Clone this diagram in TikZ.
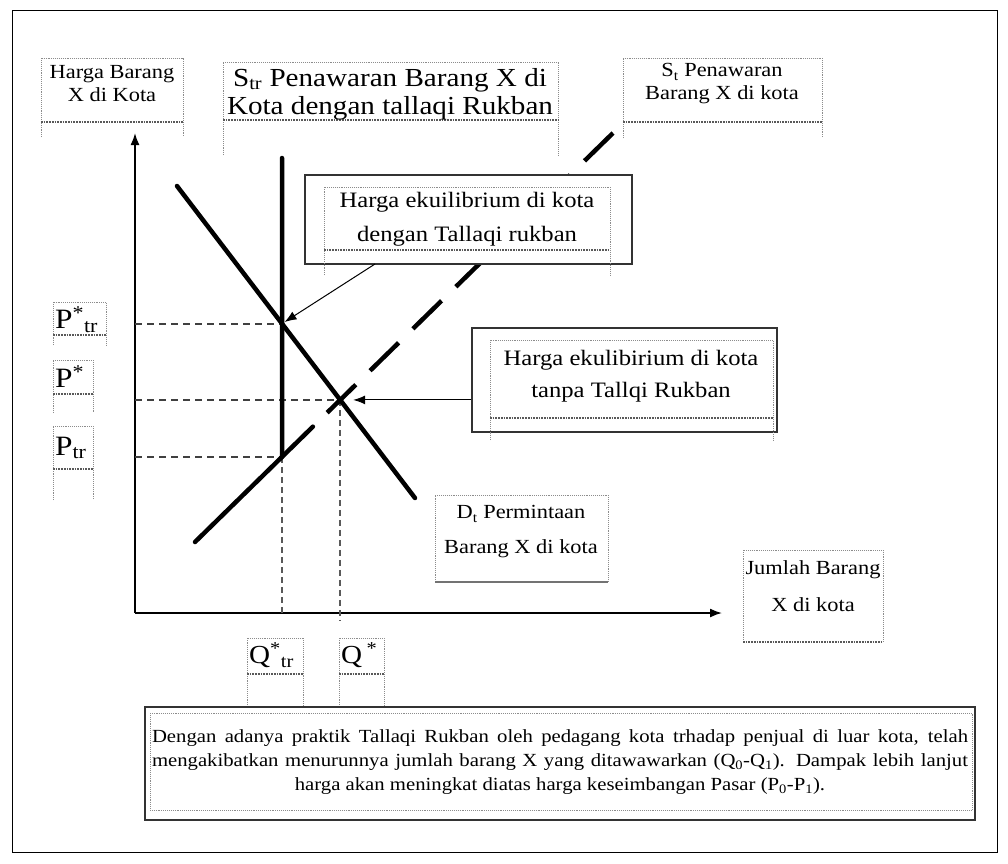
\documentclass[tikz,border=0pt]{standalone}
\usepackage{fontspec}
\setmainfont[FakeStretch=1.12]{Liberation Serif}
\usetikzlibrary{arrows.meta,calc,intersections}
\newcommand\fsz[2]{\fontsize{#1}{#2}\selectfont}
\begin{document}
\begin{tikzpicture}[x=1pt,y=-1pt,
  curve/.style={line width=4.5pt,line cap=round},
  guide/.style={line width=2pt,dash pattern=on 7pt off 5pt,black!75},
  vguide/.style={line width=1.6pt,dash pattern=on 6pt off 4pt,black!65},
  edge/.style={densely dotted,line width=0.9pt,black!45},
  uline/.style={densely dotted,line width=1.7pt,black!65},
  solidbox/.style={line width=1.3pt,black!80},
  lbl/.style={align=center,inner sep=0pt,text=black},
  axis/.style={line width=1.6pt,-{Latex[length=12pt,width=9pt]}},
  pointer/.style={line width=1pt,-{Latex[length=12pt,width=9pt]}}]
\useasboundingbox (0,0) rectangle (1008,863);
\draw[line width=1pt] (12,10) rectangle (997,852);

% ---- axes ----
\coordinate (O) at (135,613);
\coordinate (ytop) at (135,133);
\coordinate (xend) at (722,613);
\draw[axis] (O) -- (ytop);
\draw[axis] (O) -- (xend);

% ---- curves ----
\coordinate (d0) at (177,186);
\coordinate (d1) at (415,498);
\coordinate (s0) at (195,542);
\coordinate (s1) at (613,133);
\coordinate (v0) at (282,158);
\coordinate (v1) at (282,470);
\path[name path=D] (d0) -- (d1);
\path[name path=S] (s0) -- (s1);
\path[name path=V] (v0) -- (v1);
\path[name intersections={of=D and V,by=iA}];
\path[name intersections={of=D and S,by=iB}];
\path[name intersections={of=S and V,by=iC}];

% guides
\draw[guide] (O |- iA) -- (iA);
\draw[guide] (O |- iB) -- (iB);
\draw[guide] (O |- iC) -- (iC);
\draw[vguide] (iC) -- (iC |- O);
\draw[vguide] (iB) -- ($(iB |- O)+(0,8)$);

\draw[curve] (v0) -- (iC);
\draw[curve] (d0) -- (d1);
\coordinate (sm) at ($(s0)!0.282!(s1)$);
\draw[curve] (s0) -- (sm);
\draw[line width=4.5pt,dash pattern=on 40pt off 20pt,dash phase=40pt] (sm) -- (s1);

% ---- label boxes (dotted, open bottom) ----
% Harga Barang
\draw[edge] (41,137) -- (41,58) -- (183,58) -- (183,137);
\draw[uline] (41,122) -- (183,122);
\node[lbl,font=\fsz{20}{23}] (hb) at (112,84) {Harga Barang\\X di Kota};
% S_tr
\draw[edge] (223,155) -- (223,62) -- (558,62) -- (558,155);
\draw[uline] (223,120) -- (558,120);
\node[lbl,font=\fsz{26}{28}] (str) at (390,94) {S\textsubscript{tr} Penawaran Barang X di\\Kota dengan tallaqi Rukban};
% S_t
\draw[edge] (623,138) -- (623,58) -- (822,58) -- (822,138);
\draw[uline] (623,122) -- (822,122);
\node[lbl,font=\fsz{20}{23}] (st) at (722,84) {S\textsubscript{t} Penawaran\\Barang X di kota};

% equilibrium boxes
\node[draw,solidbox,fill=white,minimum width=327pt,minimum height=89pt,inner sep=0pt] (eqAbox) at (468.5,219.5) {};
\draw[edge] (324,275) -- (324,187) -- (610,187) -- (610,275);
\draw[uline] (324,250) -- (610,250);
\node[lbl,font=\fsz{22}{34}] (eqA) at (467,219) {Harga ekuilibrium di kota\\dengan Tallaqi rukban};

\node[draw,solidbox,fill=white,minimum width=305pt,minimum height=104pt,inner sep=0pt] (eqBbox) at (624.5,380) {};
\draw[edge] (490,440) -- (490,340) -- (773,340) -- (773,440);
\draw[uline] (490,418) -- (773,418);
\node[lbl,font=\fsz{22}{32}] (eqB) at (631,376) {Harga ekulibirium di kota\\tanpa Tallqi Rukban};

% D_t box
\draw[edge] (435,582) -- (435,495) -- (608,495) -- (608,582);
\draw[line width=1.4pt,black!55] (435,582) -- (608,582);
\node[lbl,font=\fsz{20}{35}] (dt) at (521,532) {D\textsubscript{t} Permintaan\\Barang X di kota};

% Jumlah box
\draw[edge] (743,642) -- (743,550) -- (883,550) -- (883,642);
\draw[uline] (743,642) -- (883,642);
\node[lbl,font=\fsz{20}{37}] (jml) at (813,586) {Jumlah Barang\\X di kota};

% P boxes
\draw[edge] (53,345) -- (53,302) -- (106,302) -- (106,345);
\draw[uline] (53,335) -- (106,335);
\node[lbl,font=\fsz{28}{30},anchor=west] (ptrs) at (55,320) {P\textsuperscript{*}\textsubscript{tr}};
\draw[edge] (53,413) -- (53,360) -- (93,360) -- (93,413);
\draw[uline] (53,394) -- (93,394);
\node[lbl,font=\fsz{28}{30},anchor=west] (ps) at (55,377) {P\textsuperscript{*}};
\draw[edge] (53,500) -- (53,426) -- (93,426) -- (93,500);
\draw[uline] (53,469) -- (93,469);
\node[lbl,font=\fsz{28}{30},anchor=west] (ptr) at (55,448) {P\textsubscript{tr}};

% Q boxes
\draw[edge] (247,707) -- (247,638) -- (303,638) -- (303,707);
\draw[uline] (247,674) -- (303,674);
\node[lbl,font=\fsz{26}{30},anchor=west] (qtrs) at (249,655) {Q\textsuperscript{*}\textsubscript{tr}};
\draw[edge] (339,707) -- (339,638) -- (384,638) -- (384,707);
\draw[uline] (339,674) -- (384,674);
\node[lbl,font=\fsz{26}{30},anchor=west] (qs) at (341,655) {Q\,\textsuperscript{*}};

% bottom note
\draw[solidbox] (145,707) rectangle (975,820);
\draw[edge] (150,713) rectangle (972,810);
\node[lbl,font=\fsz{18.5}{24}] (note) at (560,762) {\makebox[816pt][s]{Dengan adanya praktik Tallaqi Rukban oleh pedagang kota trhadap penjual di luar kota, telah}\\
\makebox[816pt][s]{mengakibatkan menurunnya jumlah barang X yang ditawawarkan (Q\textsubscript{0}-Q\textsubscript{1}). Dampak lebih lanjut}\\
harga akan meningkat diatas harga keseimbangan Pasar (P\textsubscript{0}-P\textsubscript{1}).};

% pointers
\coordinate (a1) at (375,264);
\draw[pointer,shorten >=3pt] (a1) -- (iA);
\coordinate (a2) at (eqBbox.west |- iB);
\draw[pointer,shorten >=13pt] (a2) -- (iB);
\end{tikzpicture}
\end{document}
